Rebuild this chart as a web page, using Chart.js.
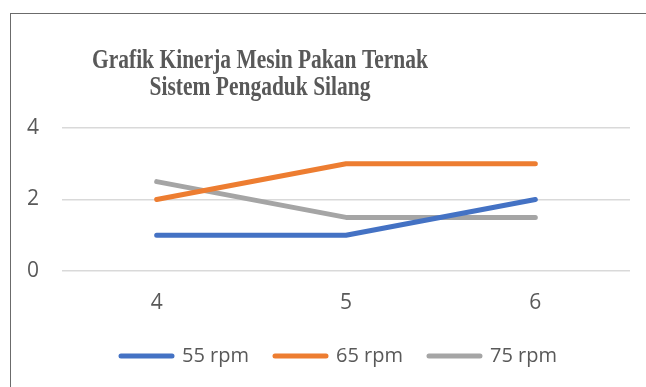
<!DOCTYPE html>
<html>
<head>
<meta charset="utf-8">
<script src="https://cdn.jsdelivr.net/npm/chart.js@4/dist/chart.umd.min.js"></script>
<style>
  html, body { margin: 0; padding: 0; background: #fff; }
  #wrap { position: relative; width: 646px; height: 387px; }
  #frame { position: absolute; left: 10px; top: 13px; right: 0; bottom: 0;
           border-left: 1.5px solid #6b6b6b; border-top: 1.5px solid #6b6b6b; pointer-events: none; }
  canvas { position: absolute; left: 0; top: 0; }
</style>
</head>
<body>
<div id="wrap">
  <canvas id="c" width="646" height="387"></canvas>
  <div id="frame"></div>
</div>
<script>
const categories = ['4', '5', '6'];
const seriesNames = ['55 rpm', '65 rpm', '75 rpm'];
const rpm55 = [1, 1, 2];
const rpm65 = [2, 3, 3];
const rpm75 = [2.5, 1.5, 1.5];
const yTicks = [0, 2, 4];
const titleLines = ['Grafik Kinerja Mesin Pakan Ternak', 'Sistem Pengaduk Silang'];

const colors = ['#4472C4', '#ED7D31', '#A5A5A5'];
const textColor = '#595959';

// Two-line bold serif heading, slightly tall-narrow
const titlePlugin = {
  id: 'serifTitle',
  afterDraw(chart) {
    const ctx = chart.ctx;
    ctx.save();
    ctx.fillStyle = textColor;
    ctx.textAlign = 'center';
    ctx.textBaseline = 'alphabetic';
    ctx.font = 'bold 21.5px "Liberation Serif", "Times New Roman", serif';
    const lines = [[titleLines[0], 68], [titleLines[1], 95]];
    for (const [t, y] of lines) {
      ctx.save();
      ctx.translate(260, y);
      ctx.scale(1, 1.3);
      ctx.fillText(t, 0, 0);
      ctx.restore();
    }
    ctx.restore();
  }
};

// Center the legend row under the plot area rather than the full canvas
const legendShift = {
  id: 'legendShift',
  afterLayout(chart) {
    const lg = chart.legend;
    if (lg) { lg.left = chart.chartArea.left - 14; lg.right = chart.chartArea.right; }
  }
};

const series = [rpm55, rpm65, rpm75];
new Chart(document.getElementById('c'), {
  type: 'line',
  data: {
    labels: categories,
    datasets: series.map((d, i) => ({
      label: seriesNames[i],
      data: d,
      borderColor: colors[i],
      backgroundColor: colors[i],
      borderWidth: 5,
      borderCapStyle: 'round',
      borderJoinStyle: 'round',
      pointRadius: 0,
      tension: 0,
      fill: false
    }))
  },
  options: {
    responsive: false,
    animation: false,
    layout: { padding: { top: 128, left: 0, right: 16, bottom: 11 } },
    plugins: {
      title: { display: false },
      tooltip: { enabled: false },
      legend: {
        position: 'bottom',
        labels: {
          boxWidth: 51,
          boxHeight: 0,
          padding: 26,
          color: textColor,
          font: { family: '"Open Sans", sans-serif', size: 20 }
        }
      }
    },
    scales: {
      x: {
        offset: true,
        grid: { display: false, drawTicks: false },
        border: { display: false },
        ticks: { color: textColor, padding: 19, font: { family: '"Open Sans", sans-serif', size: 21 } },
        afterFit(s) { s.height = 49; }
      },
      y: {
        min: 0, max: 4,
        afterBuildTicks(s) { s.ticks = yTicks.map(v => ({ value: v })); },
        grid: { color: '#d9d9d9', lineWidth: 1.5, drawTicks: false },
        border: { display: false },
        ticks: { color: textColor, padding: 23, font: { family: '"Open Sans", sans-serif', size: 21 } },
        afterFit(s) { s.width = 62; }
      }
    }
  },
  plugins: [titlePlugin, legendShift]
});
</script>
</body>
</html>
